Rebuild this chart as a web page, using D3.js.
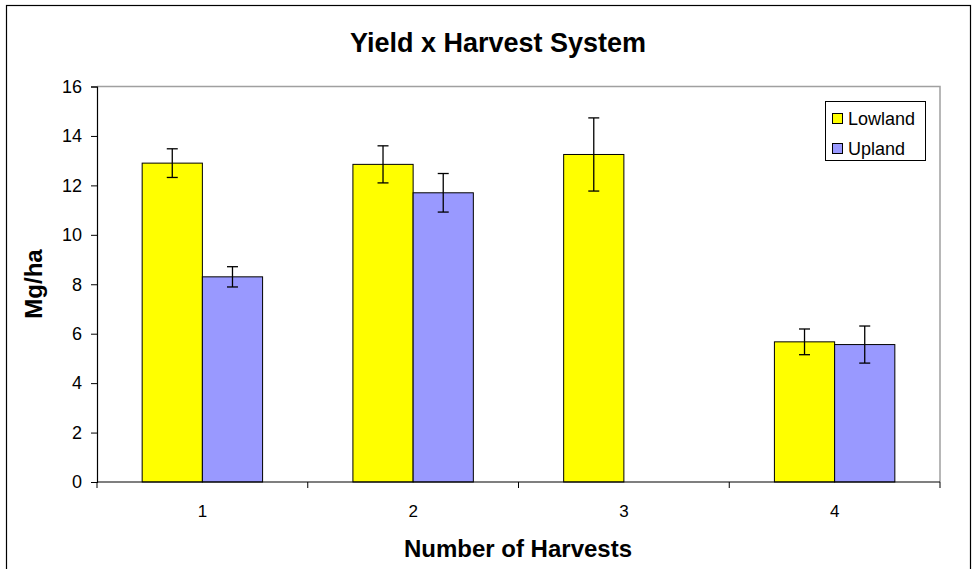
<!DOCTYPE html>
<html><head><meta charset="utf-8">
<script src="https://cdn.jsdelivr.net/npm/d3@7"></script>
<style>body{margin:0;background:#fff}svg{display:block}text{font-family:"Liberation Sans",Arial,sans-serif}</style>
</head><body><svg id="c" width="977" height="569"></svg>
<script>
const categories = ["1","2","3","4"];
const seriesNames = ["Lowland","Upland"];
const lowland = [12.9, 12.85, 13.25, 5.67];
const upland = [8.3, 11.7, null, 5.56];
const lowlandErr = [0.58, 0.75, 1.48, 0.52];
const uplandErr = [0.41, 0.78, null, 0.75];
const yTicks = [0,2,4,6,8,10,12,14,16];
const colors = ["#ffff00","#9999ff"];

const svg = d3.select("#c");
svg.append("rect").attr("x",6.5).attr("y",5.5).attr("width",964).attr("height",600)
  .attr("fill","#fff").attr("stroke","#000").attr("stroke-width",1.2);

const L=97, R=940, T=86.5, B=482;
const x = d3.scaleBand().domain(categories).range([L,R]).paddingInner(0).paddingOuter(0);
const y = d3.scaleLinear().domain([0,16]).range([B,T]);
// Excel gap width 150%: bar width = band / (2 + 1.5)
const bw = x.bandwidth()/3.5;
const groupOff = (x.bandwidth()-2*bw)/2;

svg.append("path").attr("d",`M${L},${T}H${R}V${B}`).attr("fill","none").attr("stroke","#a0a0a0").attr("stroke-width",1.5);

const data = [];
categories.forEach((c,i)=>{
  [lowland, upland].forEach((arr,s)=>{
    const errs = s===0?lowlandErr:uplandErr;
    if(arr[i]!=null) data.push({c, s, v:arr[i], e:errs[i]});
  });
});

const g = svg.append("g");
g.selectAll("rect.bar").data(data).enter().append("rect")
  .attr("x",d=>x(d.c)+groupOff+d.s*bw).attr("width",bw)
  .attr("y",d=>y(d.v)).attr("height",d=>B-y(d.v))
  .attr("fill",d=>colors[d.s]).attr("stroke","#000").attr("stroke-width",1);

const cx = d=>x(d.c)+groupOff+d.s*bw+bw/2;
const eb = g.selectAll("g.err").data(data).enter().append("g").attr("stroke","#000").attr("stroke-width",1.3);
eb.append("line").attr("x1",cx).attr("x2",cx)
  .attr("y1",d=>y(d.v+d.e)).attr("y2",d=>y(d.v-d.e));
[1,-1].forEach(sg=>{
  eb.append("line").attr("x1",d=>cx(d)-5.5).attr("x2",d=>cx(d)+5.5)
    .attr("y1",d=>y(d.v+sg*d.e)).attr("y2",d=>y(d.v+sg*d.e));
});

const yAxis = svg.append("g").attr("transform",`translate(${L},0)`)
  .call(d3.axisLeft(y).tickValues(yTicks).tickSize(6).tickPadding(9));
yAxis.select(".domain").attr("stroke","#000").attr("stroke-width",1.2);
yAxis.selectAll("line").attr("stroke","#000");
yAxis.selectAll("text").attr("font-size",18).attr("fill","#000").style("font-family",'"Liberation Sans",Arial,sans-serif');

const xAxis = svg.append("g").attr("transform",`translate(0,${B})`);
xAxis.append("line").attr("x1",L).attr("x2",R).attr("stroke","#000").attr("stroke-width",1.2);
const bounds = categories.map(c=>x(c)).concat([R]);
xAxis.selectAll("line.t").data(bounds).enter().append("line")
  .attr("x1",d=>d).attr("x2",d=>d).attr("y1",0).attr("y2",6).attr("stroke","#000");
xAxis.selectAll("text").data(categories).enter().append("text")
  .attr("x",d=>x(d)+x.bandwidth()/2).attr("y",35).attr("text-anchor","middle")
  .attr("font-size",17).text(d=>d);

svg.append("text").attr("x",498).attr("y",52).attr("text-anchor","middle")
  .attr("font-size",27).attr("font-weight","bold").text("Yield x Harvest System");
svg.append("text").attr("x",518).attr("y",557).attr("text-anchor","middle")
  .attr("font-size",24).attr("font-weight","bold").text("Number of Harvests");
svg.append("text").attr("transform","translate(42,284) rotate(-90)").attr("text-anchor","middle")
  .attr("font-size",24).attr("font-weight","bold").text("Mg/ha");

const lg = svg.append("g");
lg.append("rect").attr("x",825.5).attr("y",101.5).attr("width",100).attr("height",59)
  .attr("fill","#fff").attr("stroke","#000");
seriesNames.forEach((n,i)=>{
  lg.append("rect").attr("x",832.5).attr("y",113.5+i*30).attr("width",10).attr("height",10)
    .attr("fill",colors[i]).attr("stroke","#000");
  lg.append("text").attr("x",848).attr("y",125+i*30).attr("font-size",18).text(n);
});
</script></body></html>
